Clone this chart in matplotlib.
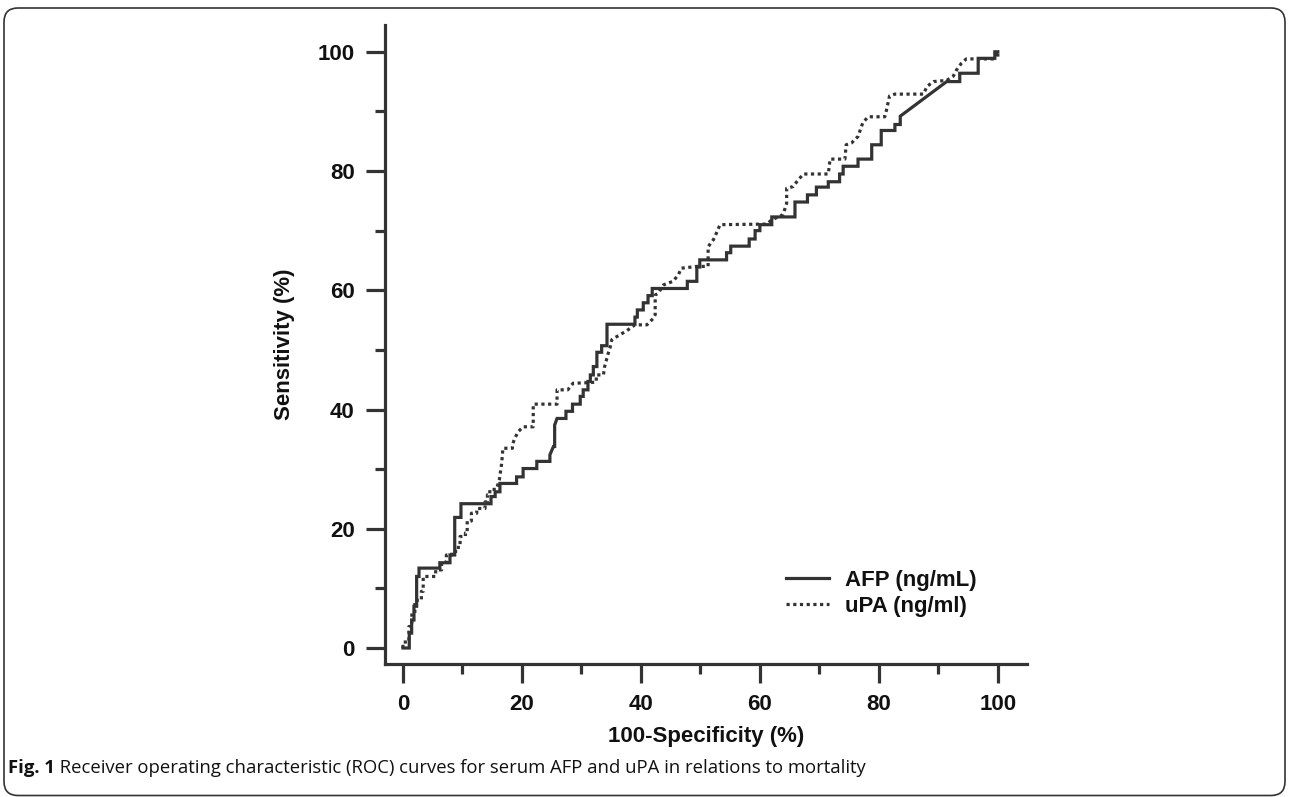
import matplotlib
matplotlib.use("Agg")
import matplotlib.pyplot as plt
from matplotlib.patches import FancyBboxPatch
from matplotlib.transforms import IdentityTransform
from matplotlib.ticker import MultipleLocator

# ROC curve vertices (100-specificity %, sensitivity %)
afp_fpr = [0, 1.06, 1.06, 1.46, 1.46, 1.85, 1.85, 2.3, 2.3, 2.7, 2.7, 6.2, 6.2, 7.9, 7.9, 8.7,
           8.7, 9.75, 9.75, 14.8, 14.8, 15.5, 15.5, 16.3, 16.3, 19.1, 19.1, 20.2, 20.2, 22.5,
           22.5, 24.7, 24.7, 25.3, 25.5, 25.5, 25.9, 27.4, 27.4, 28.5, 28.5, 29.8, 29.8, 30.3,
           30.3, 31.1, 31.1, 31.5, 31.5, 32.0, 32.0, 32.6, 32.6, 33.4, 33.4, 34.3, 34.3, 39.0,
           39.0, 39.4, 39.4, 40.4, 40.4, 41.2, 41.2, 41.9, 41.9, 47.8, 47.8, 49.4, 49.4, 49.9,
           49.9, 54.4, 54.4, 55.1, 55.1, 58.2, 58.2, 59.2, 59.2, 60.0, 60.0, 62.0, 62.0, 65.9,
           65.9, 68.0, 68.0, 69.5, 69.5, 71.5, 71.5, 73.4, 73.4, 74.0, 74.0, 76.5, 76.5, 78.8,
           78.8, 80.4, 80.4, 82.7, 82.7, 83.6, 83.6, 91.4, 93.6, 93.6, 96.7, 96.7, 99.5, 99.5,
           100]
afp_tpr = [0, 0, 2.5, 2.5, 4.7, 4.7, 7.0, 7.0, 12.0, 12.0, 13.4, 13.4, 14.3, 14.3, 15.6, 15.6,
           21.9, 21.9, 24.2, 24.2, 25.4, 25.4, 26.2, 26.2, 27.6, 27.6, 28.7, 28.7, 30.1, 30.1,
           31.3, 31.3, 32.4, 33.8, 33.8, 37.4, 38.5, 38.5, 39.7, 39.7, 40.9, 40.9, 42.2, 42.2,
           43.3, 43.3, 44.7, 44.7, 45.8, 45.8, 47.2, 47.2, 49.6, 49.6, 50.7, 50.7, 54.3, 54.3,
           55.5, 55.5, 56.7, 56.7, 57.9, 57.9, 59.1, 59.1, 60.3, 60.3, 61.5, 61.5, 63.9, 63.9,
           65.1, 65.1, 66.3, 66.3, 67.4, 67.4, 68.6, 68.6, 70.0, 70.0, 71.0, 71.0, 72.3, 72.3,
           74.8, 74.8, 76.0, 76.0, 77.3, 77.3, 78.2, 78.2, 79.5, 79.5, 80.8, 80.8, 82.0, 82.0,
           84.4, 84.4, 86.8, 86.8, 87.8, 87.8, 89.2, 95.0, 95.0, 96.4, 96.4, 98.9, 98.9, 100,
           100]

upa_fpr = [0, 0, 1.0, 1.0, 1.5, 1.5, 2.0, 2.0, 3.1, 3.1, 3.4, 3.4, 5.5, 5.5, 6.5, 6.5, 7.3,
           7.3, 8.2, 8.2, 9.3, 9.3, 9.6, 9.6, 10.5, 10.5, 10.8, 10.8, 11.5, 11.5, 12.4, 12.4,
           13.8, 13.8, 14.2, 14.2, 14.6, 14.6, 15.7, 16.2, 16.6, 16.8, 18.4, 18.4, 18.8, 19.4,
           20.2, 21.9, 21.9, 25.9, 25.9, 27.7, 28.6, 31.1, 32.5, 32.5, 33.7, 33.9, 34.2, 34.5,
           34.8, 35.1, 35.9, 37.6, 39.0, 41.0, 42.1, 42.4, 42.4, 42.9, 43.8, 45.4, 46.3, 46.8,
           49.4, 51.3, 51.3, 52.2, 52.7, 53.3, 61.1, 62.0, 63.9, 64.5, 64.5, 65.6, 66.2, 67.3,
           71.5, 71.8, 74.3, 74.5, 75.4, 76.5, 77.3, 78.2, 81.0, 81.3, 81.8, 82.7, 87.5, 88.1,
           89.2, 91.4, 92.5, 93.1, 93.9, 94.7, 99.2, 99.8, 100, 100]
upa_tpr = [0, 1.0, 1.0, 3.6, 3.6, 5.8, 5.8, 8.0, 8.0, 9.5, 9.5, 12.0, 12.0, 13.1, 13.1, 14.4,
           14.4, 15.6, 15.6, 16.2, 16.2, 17.3, 17.3, 18.7, 18.7, 19.3, 19.3, 21.3, 21.3, 22.6,
           22.6, 23.4, 23.4, 24.5, 24.5, 25.7, 25.7, 26.6, 26.6, 28.2, 31.0, 33.5, 33.5, 34.1,
           35.2, 36.3, 37.1, 37.1, 40.9, 40.9, 43.3, 43.3, 44.4, 44.5, 44.6, 45.8, 45.8, 47.2,
           48.3, 49.4, 50.3, 51.7, 52.2, 53.2, 54.2, 54.2, 55.3, 55.9, 59.2, 59.5, 60.9, 61.5,
           62.6, 63.7, 64.0, 64.0, 67.3, 68.5, 69.6, 71.0, 71.1, 71.8, 72.7, 74.6, 77.1, 77.4,
           78.2, 79.5, 79.5, 82.0, 82.0, 84.4, 84.7, 85.8, 88.1, 89.1, 89.1, 90.3, 92.6, 92.9,
           92.9, 94.2, 95.0, 95.2, 95.9, 97.0, 98.1, 98.8, 98.8, 100, 100, 98.8]

labels = ["AFP (ng/mL)", "uPA (ng/ml)"]
ticks = [0, 20, 40, 60, 80, 100]
caption_bold = "Fig. 1"
caption_rest = " Receiver operating characteristic (ROC) curves for serum AFP and uPA in relations to mortality"

ink = "#333333"
plt.rcParams["font.family"] = ["Liberation Sans", "DejaVu Sans"]

fig = plt.figure(figsize=(12.9, 7.97), dpi=100)
ax = fig.add_axes([0.2984, 0.1669, 0.4977, 0.8018])

ax.plot(afp_fpr, afp_tpr, color=ink, lw=2.3, solid_joinstyle="miter", label=labels[0])
ax.plot(upa_fpr, upa_tpr, color=ink, lw=2.3, linestyle=(0, (1, 1.1)), label=labels[1])

ax.set_xlim(-3.03, 104.9)
ax.set_ylim(-2.68, 104.5)
for side in ["top", "right"]:
    ax.spines[side].set_visible(False)
for side in ["left", "bottom"]:
    ax.spines[side].set_linewidth(2.3)
    ax.spines[side].set_color(ink)

ax.set_xticks(ticks)
ax.set_yticks(ticks)
ax.xaxis.set_minor_locator(MultipleLocator(10))
ax.yaxis.set_minor_locator(MultipleLocator(10))
ax.tick_params(which="major", length=13.7, width=2.3, color=ink, pad=8,
               labelsize=16, labelcolor="#111111")
ax.tick_params(which="minor", length=7.2, width=2.3, color=ink)
for lab in ax.get_xticklabels() + ax.get_yticklabels():
    lab.set_fontweight("bold")

ax.set_xlabel("100-Specificity (%)", fontsize=16, fontweight="bold", labelpad=8, color="#111111")
ax.set_ylabel("Sensitivity (%)", fontsize=16, fontweight="bold", labelpad=16, color="#111111")

leg = ax.legend(loc="upper left", bbox_to_anchor=(0.6075, 0.165), frameon=False,
                borderpad=0, handlelength=1.95, handletextpad=0.7, labelspacing=0.25,
                prop={"size": 16, "weight": "bold"})
for t in leg.get_texts():
    t.set_color("#111111")

# caption
fig.canvas.draw()
renderer = fig.canvas.get_renderer()
cap_y = 1 - 768 / 797
t1 = fig.text(8 / 1290, cap_y, caption_bold, fontsize=13.3, fontweight="bold",
              family=["Open Sans", "DejaVu Sans"], va="center", color="#111111")
bb = t1.get_window_extent(renderer)
fig.text(bb.x1 / 1290, cap_y, caption_rest, fontsize=13.3,
         family=["Open Sans", "DejaVu Sans"], va="center", color="#111111")

# rounded frame around the figure
frame = FancyBboxPatch((4, 1.5), 1281, 787.5, boxstyle="round,pad=0,rounding_size=14",
                       transform=IdentityTransform(), fill=False, lw=1.2, ec="#333333")
fig.add_artist(frame)

fig.savefig("out.png", dpi=100)
